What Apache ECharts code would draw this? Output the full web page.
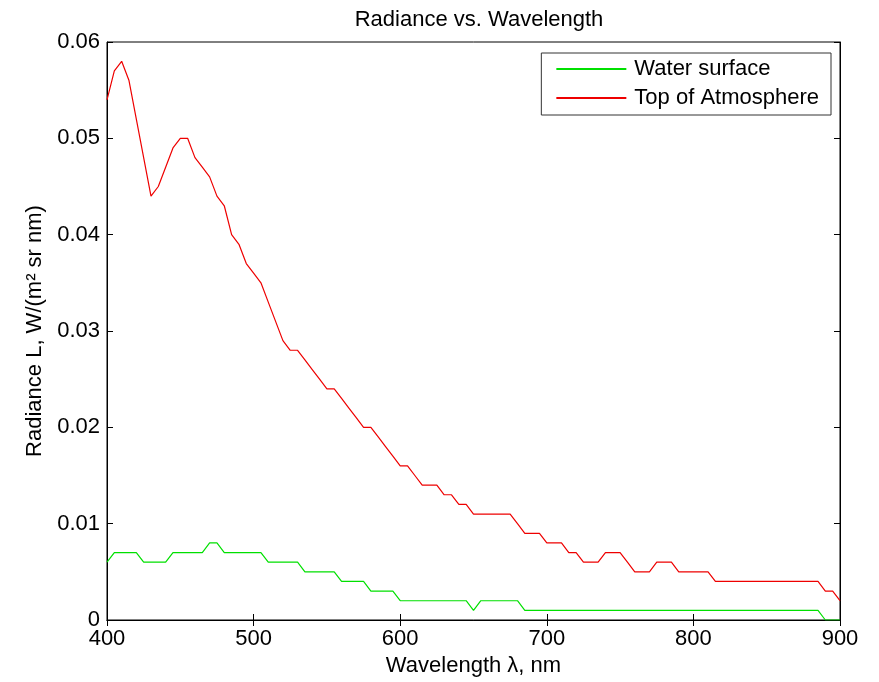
<!DOCTYPE html>
<html><head><meta charset="utf-8">
<script src="https://cdn.jsdelivr.net/npm/echarts@6/dist/echarts.min.js"></script>
<style>html,body{margin:0;padding:0;background:#fff}#c{width:879px;height:682px}</style>
</head><body><div id="c"></div>
<script>
const wavelengths = [400,405,410,415,420,425,430,435,440,445,450,455,460,465,470,475,480,485,490,495,
500,505,510,515,520,525,530,535,540,545,550,555,560,565,570,575,580,585,590,595,
600,605,610,615,620,625,630,635,640,645,650,655,660,665,670,675,680,685,690,695,
700,705,710,715,720,725,730,735,740,745,750,755,760,765,770,775,780,785,790,795,
800,805,810,815,820,825,830,835,840,845,850,855,860,865,870,875,880,885,890,895,900];
const waterSurface = [0.006,0.007,0.007,0.007,0.007,0.006,0.006,0.006,0.006,0.007,0.007,0.007,0.007,0.007,0.008,0.008,0.007,0.007,0.007,0.007,
0.007,0.007,0.006,0.006,0.006,0.006,0.006,0.005,0.005,0.005,0.005,0.005,0.004,0.004,0.004,0.004,0.003,0.003,0.003,0.003,
0.002,0.002,0.002,0.002,0.002,0.002,0.002,0.002,0.002,0.002,0.001,0.002,0.002,0.002,0.002,0.002,0.002,0.001,0.001,0.001,
0.001,0.001,0.001,0.001,0.001,0.001,0.001,0.001,0.001,0.001,0.001,0.001,0.001,0.001,0.001,0.001,0.001,0.001,0.001,0.001,
0.001,0.001,0.001,0.001,0.001,0.001,0.001,0.001,0.001,0.001,0.001,0.001,0.001,0.001,0.001,0.001,0.001,0.001,0,0,0];
const topOfAtmosphere = [0.054,0.057,0.058,0.056,0.052,0.048,0.044,0.045,0.047,0.049,0.050,0.050,0.048,0.047,0.046,0.044,0.043,0.040,0.039,0.037,
0.036,0.035,0.033,0.031,0.029,0.028,0.028,0.027,0.026,0.025,0.024,0.024,0.023,0.022,0.021,0.020,0.020,0.019,0.018,0.017,
0.016,0.016,0.015,0.014,0.014,0.014,0.013,0.013,0.012,0.012,0.011,0.011,0.011,0.011,0.011,0.011,0.010,0.009,0.009,0.009,
0.008,0.008,0.008,0.007,0.007,0.006,0.006,0.006,0.007,0.007,0.007,0.006,0.005,0.005,0.005,0.006,0.006,0.006,0.005,0.005,
0.005,0.005,0.005,0.004,0.004,0.004,0.004,0.004,0.004,0.004,0.004,0.004,0.004,0.004,0.004,0.004,0.004,0.004,0.003,0.003,0.002];
const xTicks = {min: 400, max: 900, interval: 100};
const yTicks = {min: 0, max: 0.06, interval: 0.01};

const font = 'Liberation Sans, Arial, sans-serif';
const fs = 22;
const chart = echarts.init(document.getElementById('c'), null, {renderer: 'canvas'});
const pairs = arr => wavelengths.map((w, i) => [w, arr[i]]);
const tickStyle = {show: true, inside: true, length: 6, lineStyle: {color: '#000', width: 1}};
chart.setOption({
  animation: false,
  backgroundColor: '#fff',
  title: {text: 'Radiance vs. Wavelength', left: 474, top: 4, textAlign: 'center',
    textStyle: {fontFamily: font, fontSize: 22, fontWeight: 'normal', color: '#000'}},
  legend: {
    orient: 'vertical', right: 48, top: 53,
    backgroundColor: '#fff', borderColor: '#333', borderWidth: 1,
    padding: [5, 12, 6, 15], itemGap: 7, itemWidth: 70, itemHeight: 2,
    icon: 'rect',
    textStyle: {fontFamily: font, fontSize: fs, color: '#000', padding: [0, 0, 0, 3]},
    data: ['Water surface', 'Top of Atmosphere']
  },
  grid: {left: 107, right: 39, top: 42, bottom: 62, show: true, borderColor: '#000', borderWidth: 1, backgroundColor: '#fff'},
  xAxis: [{
    type: 'value', min: xTicks.min, max: xTicks.max, interval: xTicks.interval,
    axisLine: {show: true, lineStyle: {color: '#000'}}, axisTick: tickStyle,
    splitLine: {show: false},
    axisLabel: {fontFamily: font, fontSize: fs, color: '#000', margin: 8},
    name: 'Wavelength \u03bb, nm', nameLocation: 'middle', nameGap: 29,
    nameTextStyle: {fontFamily: font, fontSize: fs, color: '#000'}
  }, {
    type: 'value', position: 'top', min: xTicks.min, max: xTicks.max, interval: xTicks.interval,
    axisLine: {show: true, lineStyle: {color: '#000'}}, axisTick: tickStyle,
    splitLine: {show: false}, axisLabel: {show: false}
  }],
  yAxis: [{
    type: 'value', min: yTicks.min, max: yTicks.max, interval: yTicks.interval,
    axisLine: {show: true, lineStyle: {color: '#000'}}, axisTick: tickStyle,
    splitLine: {show: false},
    axisLabel: {fontFamily: font, fontSize: fs, color: '#000', margin: 7,
      formatter: v => v === 0 ? '0' : v.toFixed(2)},
    name: 'Radiance L, W/(m\u00b2 sr nm)', nameLocation: 'middle', nameGap: 60, nameRotate: 90,
    nameTextStyle: {fontFamily: font, fontSize: fs, color: '#000'}
  }, {
    type: 'value', position: 'right', min: yTicks.min, max: yTicks.max, interval: yTicks.interval,
    axisLine: {show: true, lineStyle: {color: '#000'}}, axisTick: tickStyle,
    splitLine: {show: false}, axisLabel: {show: false}
  }],
  series: [{
    name: 'Water surface', type: 'line', data: pairs(waterSurface),
    showSymbol: false, symbol: 'none', lineStyle: {color: '#00e000', width: 1.2}, itemStyle: {color: '#00e000'}
  }, {
    name: 'Top of Atmosphere', type: 'line', data: pairs(topOfAtmosphere),
    showSymbol: false, symbol: 'none', lineStyle: {color: '#ee0000', width: 1.2}, itemStyle: {color: '#ee0000'}
  }]
});
</script></body></html>
